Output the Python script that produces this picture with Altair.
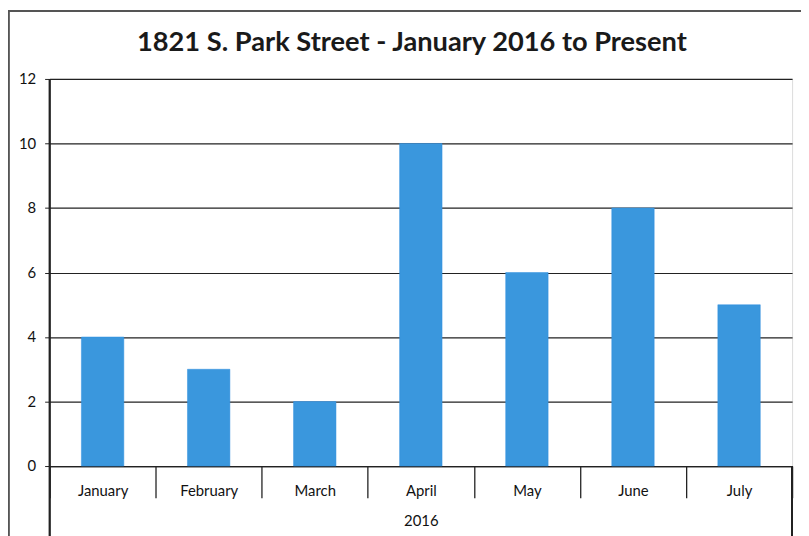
import altair as alt
import pandas as pd

months = ["January", "February", "March", "April", "May", "June", "July"]
counts = [4, 3, 2, 10, 6, 8, 5]
year_label = "2016"
title_text = "1821 S. Park Street - January 2016 to Present"
y_ticks = [0, 2, 4, 6, 8, 10, 12]

df = pd.DataFrame({"month": months, "count": counts})

W, H = 750, 391
FONT = "Lato"

bars = alt.Chart(df).mark_bar(
    color="#3A97DD", stroke="#2F8FE0", strokeWidth=0.5, width=alt.RelativeBandSize(0.4)
).encode(
    x=alt.X(
        "month:N",
        sort=months,
        scale=alt.Scale(paddingInner=0, paddingOuter=0),
        axis=alt.Axis(
            title=year_label,
            titleFont=FONT,
            titleFontSize=15,
            titleFontWeight="normal",
            titleColor="#111",
            titlePadding=15,
            labelAngle=0,
            labelFont=FONT,
            labelFontSize=15,
            labelColor="#111",
            labelPadding=-14,
            tickBand="extent",
            tickSize=32,
            tickColor="#222",
            tickWidth=1.3,
            domainColor="#222",
            domainWidth=1.3,
            grid=False,
        ),
    ),
    y=alt.Y(
        "count:Q",
        scale=alt.Scale(domain=[0, 12]),
        axis=alt.Axis(
            title=None,
            values=y_ticks,
            labelFont=FONT,
            labelFontSize=15,
            labelColor="#111",
            labelPadding=9,
            tickSize=5,
            tickColor="#222",
            domain=False,
            gridColor="#222",
            gridWidth=1.2,
            gridOpacity=1,
        ),
    ),
)

# outer vertical lines extending down through the category area
left_line = alt.Chart(df).mark_rule(color="#222", strokeWidth=1.3).encode(
    x=alt.value(0), y=alt.value(0), y2=alt.value(H + 80)
)
right_line = alt.Chart(df).mark_rule(color="#222", strokeWidth=1.3).encode(
    x=alt.value(W), y=alt.value(H), y2=alt.value(H + 80)
)
frame = alt.Chart(df).mark_rect(fill=None, stroke="#555", strokeWidth=1.5).encode(
    x=alt.value(-41.5), y=alt.value(-68.5), x2=alt.value(W + 40), y2=alt.value(H + 200)
)

chart = alt.layer(frame, bars, left_line, right_line).properties(
    width=W,
    height=H,
    autosize=alt.AutoSizeParams(type="none"),
    padding={"left": 42, "top": 69, "right": 9, "bottom": 68},
    title=alt.TitleParams(
        title_text,
        font=FONT,
        fontSize=27.5,
        fontWeight="bold",
        color="#1a1a1a",
        anchor="middle",
        dx=-9,
        offset=-47,
    ),
).configure_view(stroke=None).configure(background="white")

chart.save("out.html", embed_options={"renderer": "svg", "actions": False})
